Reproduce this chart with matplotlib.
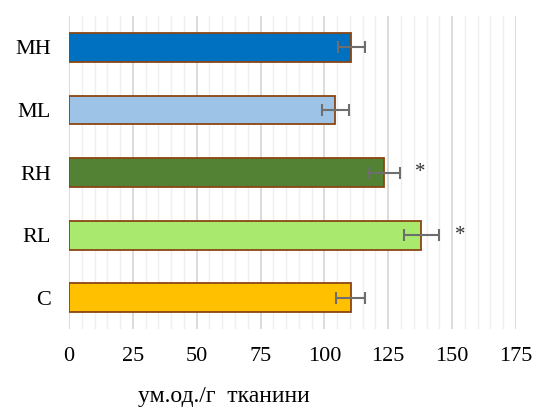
import matplotlib.pyplot as plt
from matplotlib.ticker import MultipleLocator

# groups, bottom to top
groups = ['C', 'RL', 'RH', 'ML', 'MH']
means = [110.3, 138.0, 123.5, 104.2, 110.5]
errors = [5.7, 7.0, 6.2, 5.3, 5.3]
colors = ['#FFC000', '#A9EA6E', '#548235', '#9DC3E6', '#0070C0']
signif = ['', '*', '*', '', '']

plt.rcParams['font.family'] = ['Liberation Serif', 'DejaVu Serif']

fig = plt.figure(figsize=(5.33, 4.07), dpi=100)
ax = fig.add_axes([0.1295, 0.1916, 0.8385, 0.7691])

ax.barh(groups, means, height=0.46, color=colors, edgecolor='#8B4513',
        linewidth=1.3, zorder=3)
ax.errorbar(means, range(len(groups)), xerr=errors, fmt='none',
            ecolor='#6E6E6E', elinewidth=1.5, capsize=4, capthick=1.5, zorder=4)

# significance marks to the right of the error bars
for i, s in enumerate(signif):
    if s:
        ax.text(means[i] + errors[i] + 8, i, s, ha='center', va='center',
                fontsize=15, color='#333333')

ax.set_xlim(0, 175)
ax.set_ylim(-0.5, 4.5)
ax.xaxis.set_major_locator(MultipleLocator(25))
ax.xaxis.set_minor_locator(MultipleLocator(5))
ax.grid(axis='x', which='major', color='#D9D9D9', linewidth=1.3, zorder=0)
ax.grid(axis='x', which='minor', color='#EFEFEF', linewidth=1.0, zorder=0)
ax.tick_params(which='both', length=0)
ax.tick_params(axis='x', pad=13, labelsize=16)
ax.tick_params(axis='y', pad=13, labelsize=16)
for side in ['top', 'right', 'bottom', 'left']:
    ax.spines[side].set_visible(False)

fig.text(0.42, 0.025, 'ум.од./г  тканини', ha='center', va='center', fontsize=17)

fig.savefig('out.png', dpi=100)
